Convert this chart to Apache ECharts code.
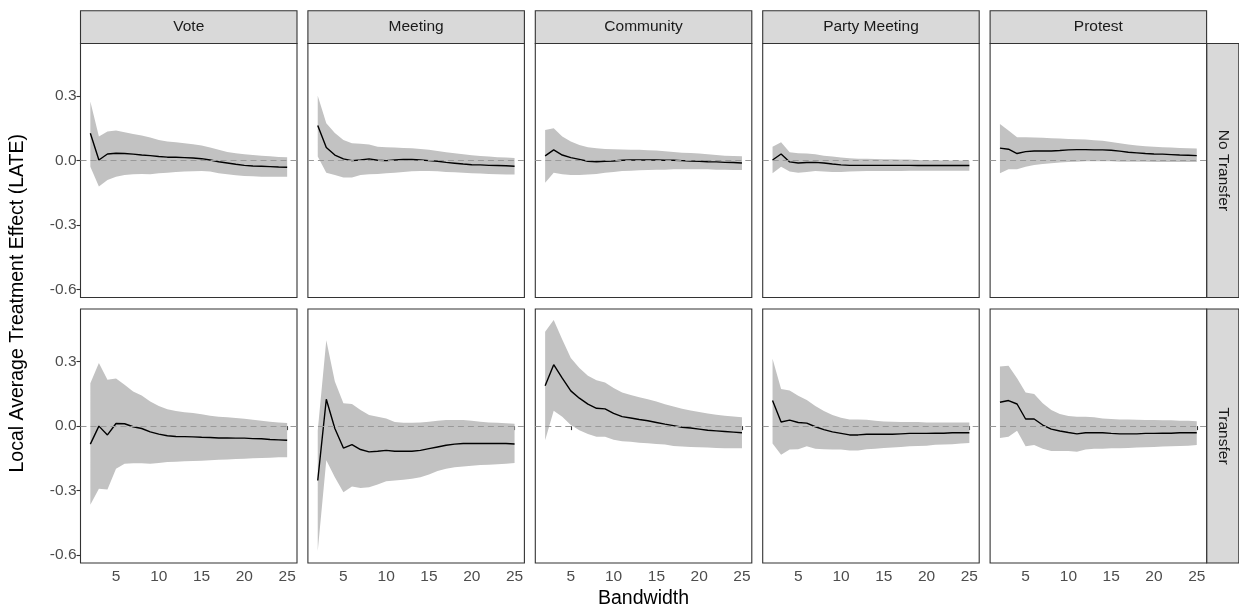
<!DOCTYPE html>
<html>
<head>
<meta charset="utf-8">
<script src="https://cdn.jsdelivr.net/npm/echarts@6/dist/echarts.min.js"></script>
<style>
html,body{margin:0;padding:0;background:#fff;}
#chart{width:1239px;height:611px;}
</style>
</head>
<body>
<div id="chart"></div>
<script>
// ---- data ----
const bandwidth = [2,3,4,5,6,7,8,9,10,11,12,13,14,15,16,17,18,19,20,21,22,23,24,25];
const outcomes = ["Vote","Meeting","Community","Party Meeting","Protest"];
const conditions = ["No Transfer","Transfer"];
const xTicks = [5,10,15,20,25];
const yTicks = [-0.6,-0.3,0,0.3];

// No Transfer
const voteNoEst = [0.127,0.003,0.031,0.034,0.033,0.030,0.026,0.023,0.019,0.016,0.016,0.014,0.012,0.009,0.003,-0.005,-0.011,-0.017,-0.022,-0.025,-0.026,-0.028,-0.030,-0.031];
const voteNoHi  = [0.275,0.112,0.135,0.140,0.132,0.124,0.117,0.107,0.096,0.089,0.086,0.081,0.076,0.070,0.061,0.050,0.040,0.034,0.030,0.026,0.023,0.020,0.017,0.016];
const voteNoLo  = [-0.028,-0.121,-0.090,-0.075,-0.067,-0.064,-0.062,-0.064,-0.059,-0.056,-0.053,-0.051,-0.050,-0.048,-0.051,-0.059,-0.064,-0.068,-0.072,-0.073,-0.075,-0.075,-0.075,-0.075];

const meetNoEst = [0.163,0.061,0.026,0.008,0.000,0.003,0.008,0.002,0.000,0.003,0.005,0.005,0.003,0.000,-0.003,-0.008,-0.012,-0.016,-0.019,-0.020,-0.022,-0.023,-0.024,-0.026];
const meetNoHi  = [0.302,0.174,0.128,0.096,0.081,0.078,0.075,0.065,0.062,0.061,0.059,0.058,0.054,0.050,0.045,0.039,0.034,0.030,0.025,0.022,0.019,0.016,0.014,0.012];
const meetNoLo  = [0.019,-0.056,-0.067,-0.079,-0.079,-0.067,-0.064,-0.062,-0.059,-0.056,-0.053,-0.050,-0.048,-0.048,-0.050,-0.053,-0.054,-0.056,-0.059,-0.060,-0.062,-0.064,-0.065,-0.065];

const commNoEst = [0.022,0.050,0.026,0.014,0.006,-0.003,-0.005,-0.003,-0.002,0.002,0.003,0.003,0.003,0.003,0.002,0.002,0.000,-0.002,-0.003,-0.005,-0.006,-0.008,-0.009,-0.011];
const commNoHi  = [0.143,0.151,0.112,0.089,0.073,0.062,0.058,0.054,0.053,0.052,0.051,0.050,0.048,0.047,0.044,0.040,0.037,0.036,0.033,0.030,0.026,0.023,0.022,0.020];
const commNoLo  = [-0.103,-0.056,-0.064,-0.067,-0.067,-0.065,-0.062,-0.057,-0.053,-0.048,-0.047,-0.045,-0.044,-0.042,-0.042,-0.040,-0.040,-0.040,-0.040,-0.040,-0.042,-0.042,-0.044,-0.044];

const partyNoEst = [0.003,0.031,-0.006,-0.011,-0.009,-0.008,-0.011,-0.016,-0.020,-0.022,-0.022,-0.022,-0.022,-0.022,-0.022,-0.022,-0.022,-0.023,-0.023,-0.023,-0.023,-0.023,-0.023,-0.023];
const partyNoHi  = [0.065,0.086,0.039,0.034,0.033,0.030,0.023,0.019,0.014,0.011,0.009,0.009,0.008,0.006,0.006,0.005,0.005,0.003,0.002,0.002,0.000,0.000,0.000,-0.002];
const partyNoLo  = [-0.059,-0.028,-0.051,-0.056,-0.053,-0.048,-0.051,-0.053,-0.053,-0.051,-0.050,-0.048,-0.048,-0.048,-0.048,-0.048,-0.047,-0.047,-0.047,-0.047,-0.047,-0.047,-0.047,-0.047];

const protNoEst = [0.058,0.053,0.033,0.042,0.045,0.045,0.045,0.047,0.050,0.051,0.051,0.050,0.050,0.048,0.044,0.039,0.036,0.033,0.031,0.030,0.028,0.026,0.025,0.023];
const protNoHi  = [0.170,0.140,0.109,0.109,0.107,0.106,0.104,0.103,0.101,0.100,0.098,0.095,0.092,0.087,0.081,0.075,0.070,0.067,0.064,0.062,0.061,0.059,0.058,0.056];
const protNoLo  = [-0.059,-0.040,-0.040,-0.028,-0.020,-0.016,-0.012,-0.009,-0.006,-0.005,-0.003,-0.003,-0.003,-0.003,-0.005,-0.005,-0.005,-0.005,-0.006,-0.006,-0.006,-0.006,-0.006,-0.006];

// Transfer
const voteTrEst = [-0.084,0.000,-0.041,0.012,0.011,-0.003,-0.011,-0.027,-0.037,-0.045,-0.048,-0.049,-0.050,-0.052,-0.053,-0.055,-0.055,-0.056,-0.056,-0.058,-0.059,-0.062,-0.064,-0.066];
const voteTrHi  = [0.200,0.294,0.216,0.222,0.192,0.161,0.142,0.114,0.094,0.078,0.070,0.064,0.061,0.055,0.048,0.044,0.041,0.038,0.034,0.030,0.025,0.020,0.017,0.014];
const voteTrLo  = [-0.366,-0.292,-0.295,-0.198,-0.175,-0.173,-0.173,-0.175,-0.172,-0.167,-0.166,-0.164,-0.162,-0.161,-0.159,-0.156,-0.155,-0.153,-0.152,-0.150,-0.148,-0.147,-0.145,-0.145];

const meetTrEst = [-0.253,0.125,-0.011,-0.102,-0.086,-0.109,-0.120,-0.117,-0.113,-0.117,-0.117,-0.117,-0.113,-0.105,-0.097,-0.089,-0.084,-0.081,-0.081,-0.081,-0.081,-0.081,-0.081,-0.083];
const meetTrHi  = [-0.020,0.400,0.208,0.106,0.103,0.075,0.052,0.044,0.036,0.019,0.016,0.016,0.017,0.020,0.025,0.028,0.028,0.028,0.025,0.020,0.017,0.016,0.013,0.011];
const meetTrLo  = [-0.581,-0.159,-0.238,-0.308,-0.281,-0.288,-0.284,-0.272,-0.256,-0.253,-0.250,-0.245,-0.238,-0.225,-0.209,-0.198,-0.191,-0.188,-0.184,-0.181,-0.180,-0.178,-0.175,-0.172];

const commTrEst = [0.188,0.286,0.223,0.164,0.130,0.102,0.083,0.080,0.059,0.044,0.038,0.031,0.025,0.017,0.009,0.002,-0.005,-0.009,-0.014,-0.019,-0.022,-0.025,-0.028,-0.031];
const commTrHi  = [0.439,0.494,0.403,0.317,0.270,0.234,0.213,0.203,0.177,0.156,0.145,0.134,0.125,0.114,0.102,0.091,0.081,0.073,0.066,0.059,0.053,0.048,0.045,0.041];
const commTrLo  = [-0.066,0.072,0.044,0.005,-0.019,-0.037,-0.050,-0.050,-0.063,-0.070,-0.073,-0.077,-0.080,-0.083,-0.086,-0.092,-0.095,-0.097,-0.098,-0.100,-0.102,-0.103,-0.103,-0.103];

const partyTrEst = [0.119,0.019,0.028,0.017,0.014,-0.003,-0.016,-0.027,-0.034,-0.041,-0.041,-0.038,-0.038,-0.038,-0.038,-0.036,-0.034,-0.034,-0.034,-0.033,-0.033,-0.031,-0.031,-0.031];
const partyTrHi  = [0.313,0.173,0.166,0.141,0.122,0.094,0.070,0.052,0.039,0.031,0.031,0.030,0.025,0.022,0.020,0.019,0.019,0.019,0.017,0.017,0.017,0.017,0.017,0.017];
const partyTrLo  = [-0.081,-0.133,-0.109,-0.108,-0.094,-0.105,-0.108,-0.109,-0.109,-0.114,-0.113,-0.108,-0.105,-0.102,-0.100,-0.097,-0.094,-0.092,-0.091,-0.087,-0.086,-0.084,-0.081,-0.078];

const protTrEst = [0.111,0.119,0.103,0.033,0.033,0.005,-0.014,-0.023,-0.030,-0.036,-0.031,-0.031,-0.031,-0.034,-0.036,-0.036,-0.036,-0.034,-0.034,-0.033,-0.033,-0.031,-0.031,-0.031];
const protTrHi  = [0.278,0.281,0.223,0.156,0.150,0.106,0.075,0.056,0.047,0.044,0.044,0.041,0.036,0.033,0.031,0.031,0.030,0.028,0.028,0.027,0.027,0.025,0.025,0.023];
const protTrLo  = [-0.055,-0.050,-0.022,-0.094,-0.088,-0.105,-0.116,-0.116,-0.116,-0.119,-0.109,-0.105,-0.105,-0.103,-0.103,-0.102,-0.100,-0.098,-0.097,-0.095,-0.094,-0.092,-0.091,-0.088];

const panels = [
  [ {est:voteNoEst, lo:voteNoLo, hi:voteNoHi}, {est:meetNoEst, lo:meetNoLo, hi:meetNoHi}, {est:commNoEst, lo:commNoLo, hi:commNoHi}, {est:partyNoEst, lo:partyNoLo, hi:partyNoHi}, {est:protNoEst, lo:protNoLo, hi:protNoHi} ],
  [ {est:voteTrEst, lo:voteTrLo, hi:voteTrHi}, {est:meetTrEst, lo:meetTrLo, hi:meetTrHi}, {est:commTrEst, lo:commTrLo, hi:commTrHi}, {est:partyTrEst, lo:partyTrLo, hi:partyTrHi}, {est:protTrEst, lo:protTrLo, hi:protTrHi} ]
];

// ---- layout ----
const FONT = "'Liberation Sans', Arial, sans-serif";
const colLeft0 = 80.5, colStep = 227.4, panelW = 216.5, panelH = 254;
const rowTops = [43.5, 309];
const stripTop = 10.7, stripH = 32.8, rStripLeft = 1206.8, rStripW = 32;
const xMin = 0.85, xMax = 26.15, yMin = -0.637, yMax = 0.545;

const grids = [], xAxes = [], yAxes = [], series = [], graphics = [];
let idx = 0;
for (let r = 0; r < 2; r++) {
  for (let c = 0; c < 5; c++) {
    const left = colLeft0 + c * colStep;
    grids.push({left: left, top: rowTops[r], width: panelW, height: panelH, show: true,
      borderColor: '#333333', borderWidth: 1.1, backgroundColor: '#ffffff', z: 0});
    xAxes.push({type: 'value', gridIndex: idx, min: xMin, max: xMax,
      axisLine: {show: false}, splitLine: {show: false},
      axisTick: {show: r === 1, customValues: xTicks, length: 4, lineStyle: {color: '#333333', width: 1.1}},
      axisLabel: {show: r === 1, customValues: xTicks, color: '#4D4D4D', fontSize: 15.5, fontFamily: FONT, margin: 6}});
    yAxes.push({type: 'value', gridIndex: idx, min: yMin, max: yMax,
      axisLine: {show: false}, splitLine: {show: false},
      axisTick: {show: c === 0, customValues: yTicks, length: 4, lineStyle: {color: '#333333', width: 1.1}},
      axisLabel: {show: c === 0, customValues: yTicks, color: '#4D4D4D', fontSize: 15.5, fontFamily: FONT, margin: 4,
        formatter: v => v.toFixed(1)}});
    const p = panels[r][c];
    series.push({
      type: 'custom', xAxisIndex: idx, yAxisIndex: idx, silent: true, z: 1,
      data: bandwidth.map((x, k) => [x, p.lo[k], p.hi[k]]),
      encode: {x: 0, y: [1, 2]},
      renderItem: (params, api) => {
        if (params.dataIndex !== 0) return null;
        const pts = [];
        for (let k = 0; k < bandwidth.length; k++) pts.push(api.coord([bandwidth[k], p.hi[k]]));
        for (let k = bandwidth.length - 1; k >= 0; k--) pts.push(api.coord([bandwidth[k], p.lo[k]]));
        return {type: 'polygon', shape: {points: pts}, style: {fill: '#C2C2C2', stroke: null}};
      }
    });
    series.push({
      type: 'line', xAxisIndex: idx, yAxisIndex: idx, silent: true, z: 2,
      data: bandwidth.map((x, k) => [x, p.est[k]]),
      showSymbol: false, symbol: 'none',
      lineStyle: {color: '#000000', width: 1.4}
    });
    series.push({
      type: 'line', xAxisIndex: idx, yAxisIndex: idx, silent: true, z: 5,
      data: [],
      markLine: {silent: true, symbol: 'none', label: {show: false}, animation: false, z: 5,
        lineStyle: {type: [6, 4], color: '#999999', width: 1.2},
        data: [{yAxis: 0}]}
    });
    idx++;
  }
}

// column strips
for (let c = 0; c < 5; c++) {
  const left = colLeft0 + c * colStep;
  graphics.push({type: 'rect', shape: {x: left, y: stripTop, width: panelW, height: stripH},
    style: {fill: '#D9D9D9', stroke: '#333333', lineWidth: 1.1}, z: 10});
  graphics.push({type: 'text', x: left + panelW / 2, y: stripTop + stripH / 2,
    style: {text: outcomes[c], fill: '#1A1A1A', font: '15.5px ' + FONT, align: 'center', verticalAlign: 'middle'}, z: 11});
}
// row strips
for (let r = 0; r < 2; r++) {
  graphics.push({type: 'rect', shape: {x: rStripLeft, y: rowTops[r], width: rStripW, height: panelH},
    style: {fill: '#D9D9D9', stroke: '#333333', lineWidth: 1.1}, z: 10});
  graphics.push({type: 'text', x: rStripLeft + rStripW / 2, y: rowTops[r] + panelH / 2, rotation: -Math.PI / 2,
    style: {text: conditions[r], fill: '#1A1A1A', font: '15.5px ' + FONT, align: 'center', verticalAlign: 'middle'}, z: 11});
}
// axis titles
graphics.push({type: 'text', x: 18, y: (rowTops[0] + rowTops[1] + panelH) / 2, rotation: Math.PI / 2,
  style: {text: 'Local Average Treatment Effect (LATE)', fill: '#000000', font: '19.5px ' + FONT, align: 'center', verticalAlign: 'middle'}});
graphics.push({type: 'text', x: colLeft0 + (4 * colStep + panelW) / 2, y: 599,
  style: {text: 'Bandwidth', fill: '#000000', font: '19.5px ' + FONT, align: 'center', verticalAlign: 'middle'}});

const chart = echarts.init(document.getElementById('chart'), null, {renderer: 'canvas'});
chart.setOption({
  animation: false,
  backgroundColor: '#ffffff',
  grid: grids, xAxis: xAxes, yAxis: yAxes, series: series, graphic: graphics
});
</script>
</body>
</html>
